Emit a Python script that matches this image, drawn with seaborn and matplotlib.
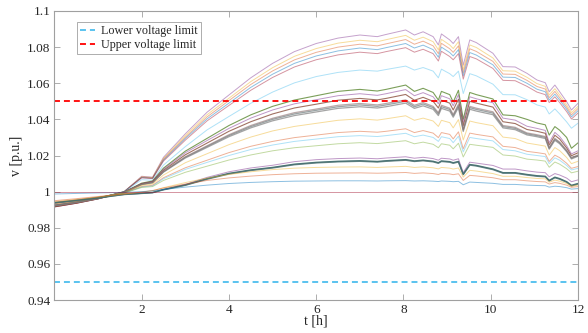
import matplotlib
matplotlib.use("Agg")
import matplotlib.pyplot as plt
import seaborn as sns
import pandas as pd

# time axis [h]
t_h = [0, 0.5, 1.0, 1.6, 2.0, 2.25, 2.5, 3.0, 3.5, 4.0, 4.5, 5.0, 5.5, 6.0, 6.5, 7.0, 7.4, 7.6,
       8.05, 8.25, 8.45, 8.68, 8.8, 8.87, 9.06, 9.14, 9.26, 9.37, 9.52, 9.67, 10.05, 10.28,
       10.56, 10.83, 11.06, 11.25, 11.34, 11.47, 11.58, 11.74, 11.85, 12.0]

# bus voltages [p.u.]
v_top_purple = [0.9915, 0.9935, 0.9960, 1.0000, 1.0085, 1.0080, 1.0190, 1.0320, 1.0440, 1.0535, 1.0630, 1.0710, 1.0775, 1.0820, 1.0850, 1.0867, 1.0858, 1.0870, 1.0895, 1.0867, 1.0885, 1.0858, 1.0812, 1.0873, 1.0840, 1.0820, 1.0858, 1.0700, 1.0840, 1.0825, 1.0766, 1.0692, 1.0690, 1.0655, 1.0618, 1.0603, 1.0553, 1.0590, 1.0553, 1.0498, 1.0452, 1.0489]
v_top_yellow = [0.9920, 0.9938, 0.9962, 1.0000, 1.0082, 1.0078, 1.0183, 1.0310, 1.0426, 1.0517, 1.0609, 1.0686, 1.0749, 1.0792, 1.0822, 1.0838, 1.0830, 1.0841, 1.0865, 1.0838, 1.0855, 1.0830, 1.0785, 1.0843, 1.0812, 1.0792, 1.0830, 1.0676, 1.0812, 1.0798, 1.0740, 1.0669, 1.0667, 1.0633, 1.0598, 1.0583, 1.0535, 1.0570, 1.0535, 1.0481, 1.0437, 1.0472]
v_top_orange = [0.9918, 0.9937, 0.9961, 1.0000, 1.0080, 1.0076, 1.0179, 1.0301, 1.0414, 1.0504, 1.0593, 1.0668, 1.0729, 1.0771, 1.0800, 1.0816, 1.0807, 1.0818, 1.0842, 1.0816, 1.0833, 1.0807, 1.0764, 1.0821, 1.0791, 1.0771, 1.0807, 1.0658, 1.0791, 1.0776, 1.0721, 1.0651, 1.0649, 1.0616, 1.0582, 1.0568, 1.0520, 1.0555, 1.0520, 1.0468, 1.0425, 1.0460]
v_top_blue = [0.9922, 0.9940, 0.9963, 1.0000, 1.0078, 1.0074, 1.0174, 1.0294, 1.0403, 1.0490, 1.0577, 1.0650, 1.0710, 1.0751, 1.0779, 1.0795, 1.0786, 1.0797, 1.0820, 1.0795, 1.0811, 1.0786, 1.0744, 1.0800, 1.0770, 1.0751, 1.0786, 1.0641, 1.0770, 1.0756, 1.0702, 1.0634, 1.0632, 1.0600, 1.0567, 1.0553, 1.0507, 1.0540, 1.0507, 1.0456, 1.0414, 1.0448]
v_top_red = [0.9916, 0.9936, 0.9960, 1.0000, 1.0076, 1.0072, 1.0169, 1.0285, 1.0392, 1.0477, 1.0561, 1.0632, 1.0690, 1.0730, 1.0757, 1.0772, 1.0764, 1.0775, 1.0797, 1.0772, 1.0788, 1.0764, 1.0723, 1.0777, 1.0748, 1.0730, 1.0764, 1.0623, 1.0748, 1.0735, 1.0682, 1.0616, 1.0614, 1.0583, 1.0551, 1.0537, 1.0493, 1.0525, 1.0493, 1.0443, 1.0402, 1.0435]
v_top_lblue = [0.9925, 0.9942, 0.9964, 1.0000, 1.0066, 1.0063, 1.0147, 1.0249, 1.0342, 1.0416, 1.0489, 1.0551, 1.0602, 1.0637, 1.0660, 1.0673, 1.0667, 1.0676, 1.0695, 1.0673, 1.0687, 1.0667, 1.0630, 1.0678, 1.0653, 1.0637, 1.0667, 1.0543, 1.0653, 1.0641, 1.0595, 1.0537, 1.0536, 1.0509, 1.0480, 1.0468, 1.0430, 1.0458, 1.0430, 1.0386, 1.0351, 1.0379]
v_mid_green = [0.9925, 0.9942, 0.9964, 0.9998, 1.0047, 1.0059, 1.0130, 1.0224, 1.0295, 1.0366, 1.0425, 1.0472, 1.0507, 1.0531, 1.0555, 1.0566, 1.0557, 1.0566, 1.0590, 1.0555, 1.0572, 1.0549, 1.0507, 1.0555, 1.0537, 1.0496, 1.0561, 1.0401, 1.0549, 1.0537, 1.0513, 1.0425, 1.0420, 1.0400, 1.0380, 1.0370, 1.0313, 1.0360, 1.0340, 1.0300, 1.0240, 1.0270]
v_mid_purple = [0.9928, 0.9944, 0.9965, 0.9998, 1.0045, 1.0057, 1.0124, 1.0215, 1.0283, 1.0350, 1.0407, 1.0452, 1.0486, 1.0509, 1.0531, 1.0542, 1.0533, 1.0542, 1.0565, 1.0531, 1.0548, 1.0525, 1.0486, 1.0531, 1.0514, 1.0475, 1.0537, 1.0384, 1.0525, 1.0514, 1.0492, 1.0407, 1.0396, 1.0362, 1.0350, 1.0339, 1.0271, 1.0328, 1.0305, 1.0254, 1.0209, 1.0226]
v_mid_brown = [0.9916, 0.9936, 0.9960, 0.9996, 1.0043, 1.0054, 1.0118, 1.0204, 1.0269, 1.0334, 1.0387, 1.0430, 1.0463, 1.0484, 1.0506, 1.0516, 1.0508, 1.0516, 1.0538, 1.0506, 1.0522, 1.0500, 1.0463, 1.0506, 1.0490, 1.0452, 1.0511, 1.0366, 1.0500, 1.0490, 1.0468, 1.0387, 1.0377, 1.0344, 1.0334, 1.0323, 1.0258, 1.0312, 1.0291, 1.0242, 1.0199, 1.0215]
v_mid_gray_a = [0.9922, 0.9940, 0.9962, 0.9996, 1.0040, 1.0050, 1.0110, 1.0190, 1.0250, 1.0310, 1.0360, 1.0400, 1.0430, 1.0450, 1.0470, 1.0480, 1.0472, 1.0480, 1.0500, 1.0470, 1.0485, 1.0465, 1.0430, 1.0470, 1.0455, 1.0420, 1.0475, 1.0340, 1.0465, 1.0455, 1.0435, 1.0360, 1.0350, 1.0320, 1.0310, 1.0300, 1.0240, 1.0290, 1.0270, 1.0225, 1.0185, 1.0200]
v_mid_gray_b = [0.9920, 0.9939, 0.9961, 0.9996, 1.0039, 1.0049, 1.0108, 1.0186, 1.0245, 1.0304, 1.0353, 1.0392, 1.0421, 1.0441, 1.0461, 1.0470, 1.0463, 1.0470, 1.0490, 1.0461, 1.0475, 1.0456, 1.0421, 1.0461, 1.0446, 1.0412, 1.0466, 1.0333, 1.0456, 1.0446, 1.0426, 1.0353, 1.0343, 1.0314, 1.0304, 1.0294, 1.0235, 1.0284, 1.0265, 1.0221, 1.0181, 1.0196]
v_mid_gray_c = [0.9924, 0.9941, 0.9963, 0.9996, 1.0041, 1.0051, 1.0112, 1.0193, 1.0254, 1.0315, 1.0366, 1.0406, 1.0437, 1.0457, 1.0478, 1.0488, 1.0480, 1.0488, 1.0508, 1.0478, 1.0493, 1.0472, 1.0437, 1.0478, 1.0462, 1.0427, 1.0483, 1.0345, 1.0472, 1.0462, 1.0442, 1.0366, 1.0356, 1.0325, 1.0315, 1.0305, 1.0244, 1.0295, 1.0274, 1.0229, 1.0188, 1.0203]
v_mid_yellow = [0.9932, 0.9947, 0.9966, 0.9995, 1.0034, 1.0042, 1.0092, 1.0160, 1.0210, 1.0260, 1.0302, 1.0336, 1.0361, 1.0378, 1.0395, 1.0403, 1.0396, 1.0403, 1.0420, 1.0395, 1.0407, 1.0391, 1.0361, 1.0395, 1.0382, 1.0353, 1.0399, 1.0286, 1.0391, 1.0382, 1.0365, 1.0302, 1.0294, 1.0269, 1.0260, 1.0252, 1.0202, 1.0244, 1.0227, 1.0189, 1.0155, 1.0168]
v_mid_orange = [0.9935, 0.9949, 0.9967, 0.9994, 1.0028, 1.0035, 1.0077, 1.0132, 1.0174, 1.0216, 1.0251, 1.0278, 1.0299, 1.0313, 1.0327, 1.0334, 1.0329, 1.0334, 1.0348, 1.0327, 1.0338, 1.0324, 1.0299, 1.0327, 1.0317, 1.0292, 1.0331, 1.0237, 1.0324, 1.0317, 1.0303, 1.0251, 1.0244, 1.0223, 1.0216, 1.0209, 1.0167, 1.0202, 1.0188, 1.0157, 1.0129, 1.0139]
v_mid_lblue = [0.9938, 0.9951, 0.9968, 0.9993, 1.0026, 1.0032, 1.0071, 1.0123, 1.0162, 1.0200, 1.0233, 1.0258, 1.0278, 1.0291, 1.0304, 1.0310, 1.0305, 1.0310, 1.0323, 1.0304, 1.0313, 1.0300, 1.0278, 1.0304, 1.0294, 1.0271, 1.0307, 1.0220, 1.0300, 1.0294, 1.0281, 1.0233, 1.0226, 1.0207, 1.0200, 1.0194, 1.0155, 1.0187, 1.0174, 1.0145, 1.0120, 1.0129]
v_mid_green2 = [0.9940, 0.9952, 0.9969, 0.9992, 1.0023, 1.0028, 1.0062, 1.0107, 1.0141, 1.0175, 1.0203, 1.0226, 1.0243, 1.0254, 1.0265, 1.0271, 1.0266, 1.0271, 1.0282, 1.0265, 1.0274, 1.0262, 1.0243, 1.0265, 1.0257, 1.0237, 1.0268, 1.0192, 1.0262, 1.0257, 1.0245, 1.0203, 1.0197, 1.0180, 1.0175, 1.0169, 1.0135, 1.0164, 1.0152, 1.0127, 1.0104, 1.0113]
v_low_purple = [0.9942, 0.9954, 0.9968, 0.9986, 0.9990, 0.9995, 1.0011, 1.0040, 1.0079, 1.0110, 1.0131, 1.0146, 1.0166, 1.0177, 1.0183, 1.0186, 1.0182, 1.0186, 1.0193, 1.0185, 1.0190, 1.0183, 1.0174, 1.0185, 1.0181, 1.0174, 1.0182, 1.0106, 1.0163, 1.0158, 1.0145, 1.0125, 1.0125, 1.0115, 1.0108, 1.0105, 1.0082, 1.0100, 1.0092, 1.0075, 1.0055, 1.0065]
v_low_teal_a = [0.9939, 0.9952, 0.9966, 0.9985, 0.9991, 0.9995, 1.0012, 1.0037, 1.0072, 1.0101, 1.0120, 1.0134, 1.0152, 1.0162, 1.0168, 1.0171, 1.0167, 1.0171, 1.0177, 1.0170, 1.0174, 1.0168, 1.0160, 1.0170, 1.0166, 1.0160, 1.0167, 1.0097, 1.0150, 1.0145, 1.0125, 1.0105, 1.0105, 1.0095, 1.0088, 1.0085, 1.0062, 1.0080, 1.0072, 1.0055, 1.0035, 1.0045]
v_low_teal_b = [0.9937, 0.9950, 0.9965, 0.9984, 0.9990, 0.9994, 1.0010, 1.0035, 1.0069, 1.0098, 1.0117, 1.0131, 1.0149, 1.0159, 1.0165, 1.0168, 1.0164, 1.0168, 1.0174, 1.0167, 1.0171, 1.0165, 1.0157, 1.0167, 1.0163, 1.0157, 1.0164, 1.0094, 1.0147, 1.0142, 1.0122, 1.0102, 1.0102, 1.0092, 1.0085, 1.0082, 1.0059, 1.0077, 1.0069, 1.0052, 1.0032, 1.0042]
v_low_yellow = [0.9945, 0.9957, 0.9970, 0.9987, 0.9997, 1.0005, 1.0022, 1.0050, 1.0075, 1.0095, 1.0110, 1.0122, 1.0130, 1.0134, 1.0136, 1.0137, 1.0134, 1.0136, 1.0140, 1.0134, 1.0137, 1.0132, 1.0126, 1.0134, 1.0130, 1.0125, 1.0131, 1.0080, 1.0118, 1.0114, 1.0100, 1.0085, 1.0085, 1.0078, 1.0073, 1.0071, 1.0052, 1.0064, 1.0058, 1.0045, 1.0030, 1.0036]
v_low_orange = [0.9950, 0.9961, 0.9973, 0.9988, 0.9998, 1.0006, 1.0020, 1.0042, 1.0062, 1.0076, 1.0086, 1.0094, 1.0099, 1.0102, 1.0103, 1.0104, 1.0102, 1.0103, 1.0106, 1.0101, 1.0104, 1.0100, 1.0095, 1.0101, 1.0098, 1.0094, 1.0099, 1.0062, 1.0090, 1.0087, 1.0077, 1.0066, 1.0066, 1.0060, 1.0056, 1.0054, 1.0042, 1.0050, 1.0046, 1.0036, 1.0024, 1.0028]
v_low_blue = [0.9987, 0.9990, 0.9993, 0.9996, 1.0000, 1.0004, 1.0012, 1.0025, 1.0036, 1.0045, 1.0051, 1.0055, 1.0058, 1.0059, 1.0060, 1.0060, 1.0059, 1.0060, 1.0061, 1.0059, 1.0060, 1.0058, 1.0056, 1.0059, 1.0057, 1.0055, 1.0057, 1.0038, 1.0053, 1.0051, 1.0046, 1.0040, 1.0040, 1.0036, 1.0034, 1.0033, 1.0025, 1.0030, 1.0028, 1.0022, 1.0014, 1.0017]
slack_t = [0, 12]
slack_v = [1.0, 1.0]

v_lower_limit = 0.95
v_upper_limit = 1.05
x_ticks = [2, 4, 6, 8, 10, 12]
y_ticks = [0.94, 0.96, 0.98, 1.0, 1.02, 1.04, 1.06, 1.08, 1.1]
y_tick_labels = ["0.94", "0.96", "0.98", "1", "1.02", "1.04", "1.06", "1.08", "1.1"]

BLUE, ORANGE, YELLOW, PURPLE = "#0072BD", "#D95319", "#EDB120", "#7E2F8E"
GREEN, LBLUE, RED = "#77AC30", "#4DBEEE", "#A2142F"

series = [
    (v_top_purple, PURPLE, 0.45, 0.7), (v_top_yellow, YELLOW, 0.45, 0.7),
    (v_top_orange, ORANGE, 0.45, 0.7), (v_top_blue, BLUE, 0.45, 0.7),
    (v_top_red, RED, 0.45, 0.7), (v_top_lblue, LBLUE, 0.45, 0.7),
    (v_mid_green, "#4f7f22", 0.75, 0.8), (v_mid_purple, PURPLE, 0.5, 0.7),
    (v_mid_brown, "#7a3520", 0.7, 0.8),
    (v_mid_gray_a, "#6f7f80", 0.7, 0.9), (v_mid_gray_b, "#7f7f7f", 0.7, 0.9),
    (v_mid_gray_c, "#8a6f6f", 0.6, 0.9),
    (v_mid_yellow, YELLOW, 0.45, 0.7), (v_mid_orange, ORANGE, 0.45, 0.7),
    (v_mid_lblue, LBLUE, 0.45, 0.7), (v_mid_green2, GREEN, 0.45, 0.7),
    (v_low_purple, PURPLE, 0.5, 0.7),
    (v_low_teal_a, "#2f5f60", 0.85, 1.0), (v_low_teal_b, "#4a7070", 0.8, 1.0),
    (v_low_yellow, YELLOW, 0.45, 0.7), (v_low_orange, ORANGE, 0.45, 0.7),
    (v_low_blue, BLUE, 0.45, 0.7),
]

sns.set_theme(style="white")
plt.rcParams["font.family"] = ["Liberation Serif", "DejaVu Serif"]

fig = plt.figure(figsize=(5.88, 3.33), dpi=100)
ax = fig.add_axes([0.0925, 0.099, 0.8905, 0.868])

for vals, col, a, lw in series:
    df = pd.DataFrame({"t": t_h, "v": vals})
    sns.lineplot(data=df, x="t", y="v", ax=ax, color=col, alpha=a, lw=lw,
                 legend=False, estimator=None)
sns.lineplot(x=slack_t, y=slack_v, ax=ax, color=RED, alpha=0.45, lw=0.7, legend=False)

ax.axhline(v_lower_limit, color=LBLUE, ls=(0, (3.3, 2.2)), lw=1.3, label="Lower voltage limit")
ax.axhline(v_upper_limit, color="#FF0000", ls=(0, (3.3, 2.2)), lw=1.3, label="Upper voltage limit")

ax.set_xlim(0, 12)
ax.set_ylim(0.94, 1.1)
ax.set_xticks(x_ticks)
ax.set_xticklabels([str(x) for x in x_ticks])
ax.set_yticks(y_ticks)
ax.set_yticklabels(y_tick_labels)
ax.set_xlabel("t [h]", fontsize=10, labelpad=-1, color="#262626")
ax.set_ylabel("v [p.u.]", fontsize=10, labelpad=3, color="#262626")
ax.tick_params(direction="in", length=4, width=0.6, color="#a0a0a0",
               labelsize=9.5, labelcolor="#262626", top=True, right=True,
               bottom=True, left=True, pad=3)
for s in ax.spines.values():
    s.set_color("#a0a0a0")
    s.set_linewidth(0.8)

leg = ax.legend(loc="upper left", bbox_to_anchor=(0.0425, 0.962), fontsize=8.7,
                frameon=True, fancybox=False, framealpha=1, edgecolor="#a0a0a0",
                handlelength=1.3, handletextpad=0.5, borderpad=0.25, labelspacing=0.2,
                borderaxespad=0)
leg.get_frame().set_linewidth(0.6)

fig.savefig("out.png", dpi=100)
